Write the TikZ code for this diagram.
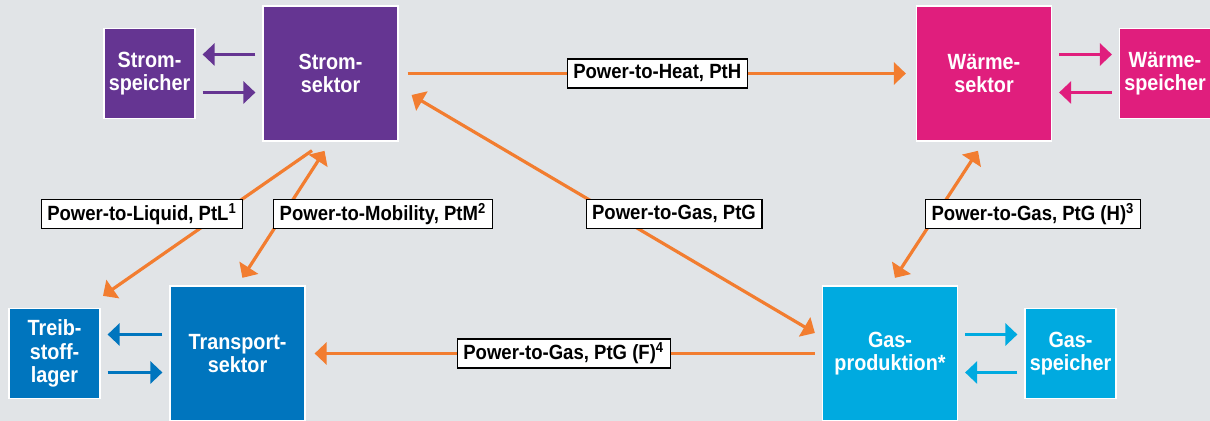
\documentclass[tikz,border=0pt]{standalone}
\usepackage{fontspec}
\setmainfont[FakeStretch=0.9]{Liberation Sans}
\usepackage{xcolor}
\usetikzlibrary{arrows.meta}
\definecolor{bggrey}{RGB}{225,228,231}
\definecolor{strom}{RGB}{101,53,146}
\definecolor{waerme}{RGB}{224,30,125}
\definecolor{transp}{RGB}{0,117,190}
\definecolor{gasblau}{RGB}{0,170,224}
\definecolor{ptx}{RGB}{242,125,48}

\begin{document}
\begin{tikzpicture}[x=0.5pt,y=0.5pt,>={Triangle[length=6pt,width=11pt]},
  sektor/.style={draw=white,line width=0.6pt,minimum width=67.5pt,minimum height=67.5pt,
    inner sep=0pt,text=white,align=center,font=\bfseries\fontsize{11}{11.75}\selectfont},
  speicher/.style={sektor,minimum width=45.5pt,minimum height=45pt},
  lbl/.style={draw=black,text=black,line width=0.6pt,fill=white,inner xsep=3pt,inner ysep=0pt,
    minimum height=14.5pt,font=\bfseries\fontsize{10.3}{11}\selectfont},
  ox/.style={ptx,line width=1.6pt},
  sx/.style={line width=1.4pt,shorten <=3.5pt,shorten >=3.5pt}]
  \useasboundingbox (0,0) rectangle (1210,421);
  \fill[bggrey] (0,0) rectangle (1210,421);
  % Sektoren und Speicher
  \node[sektor,fill=strom] (strsek) at (330.5,347.5) {Strom-\\sektor};
  \node[speicher,fill=strom] (strsp) at (149.5,347.5) {Strom-\\speicher};
  \node[sektor,fill=waerme] (wsek) at (984,347.5) {Wärme-\\sektor};
  \node[speicher,fill=waerme] (wsp) at (1165,347.5) {Wärme-\\speicher};
  \node[sektor,fill=transp] (trsek) at (237.5,67.5) {Transport-\\sektor};
  \node[speicher,fill=transp] (trsp) at (54.5,67.5) {Treib-\\stoff-\\lager};
  \node[sektor,fill=gasblau] (gas) at (890,67.5) {Gas-\\produktion*};
  \node[speicher,fill=gasblau] (gassp) at (1070.5,67.5) {Gas-\\speicher};
  % Speicherpfeile
  \draw[->,strom,sx] ([yshift=9.5pt]strsek.west) -- ([yshift=9.5pt]strsp.east);
  \draw[->,strom,sx] ([yshift=-9.5pt]strsp.east) -- ([yshift=-9.5pt]strsek.west);
  \draw[->,waerme,sx] ([yshift=9.5pt]wsek.east) -- ([yshift=9.5pt]wsp.west);
  \draw[->,waerme,sx] ([yshift=-9.5pt]wsp.west) -- ([yshift=-9.5pt]wsek.east);
  \draw[->,transp,sx] ([yshift=9.5pt]trsek.west) -- ([yshift=9.5pt]trsp.east);
  \draw[->,transp,sx] ([yshift=-9.5pt]trsp.east) -- ([yshift=-9.5pt]trsek.west);
  \draw[->,gasblau,sx] ([yshift=9.5pt]gas.east) -- ([yshift=9.5pt]gassp.west);
  \draw[->,gasblau,sx] ([yshift=-9.5pt]gassp.west) -- ([yshift=-9.5pt]gas.east);
  % Power-to-X
  \draw[ox,->,shorten <=4.5pt,shorten >=5pt] (strsek) -- (wsek)
    node[lbl,pos=0.5] (lpth) {Power-to-Heat, PtH};
  \draw[ox,<->] ([shift={(6.5pt,-10.75pt)}]strsek.east) -- ([shift={(-3.5pt,10.25pt)}]gas.west);
  \draw[ox,->] ([shift={(-9.25pt,-4.5pt)}]strsek.south) -- ([shift={(24.25pt,6pt)}]trsp.north);
  \draw[ox,<->,shorten <=5.5pt,shorten >=4.5pt] (strsek.south) -- (trsek.north);
  \draw[ox,<->,shorten <=5.5pt,shorten >=4.5pt] (wsek.south) -- (gas.north);
  \draw[ox,->,shorten <=3.5pt,shorten >=4.5pt] (gas) -- (trsek)
    node[lbl,pos=0.5] (lptgf) {Power-to-Gas, PtG (F)\textsuperscript{4}};
  \node[lbl] (lptl) at (142,207) {Power-to-Liquid, PtL\textsuperscript{1}};
  \node[lbl] (lptm) at (383,207) {Power-to-Mobility, PtM\textsuperscript{2}};
  \node[lbl] (lptg) at (674,207) {Power-to-Gas, PtG};
  \node[lbl] (lptgh) at (1033,207) {Power-to-Gas, PtG (H)\textsuperscript{3}};
\end{tikzpicture}
\end{document}
